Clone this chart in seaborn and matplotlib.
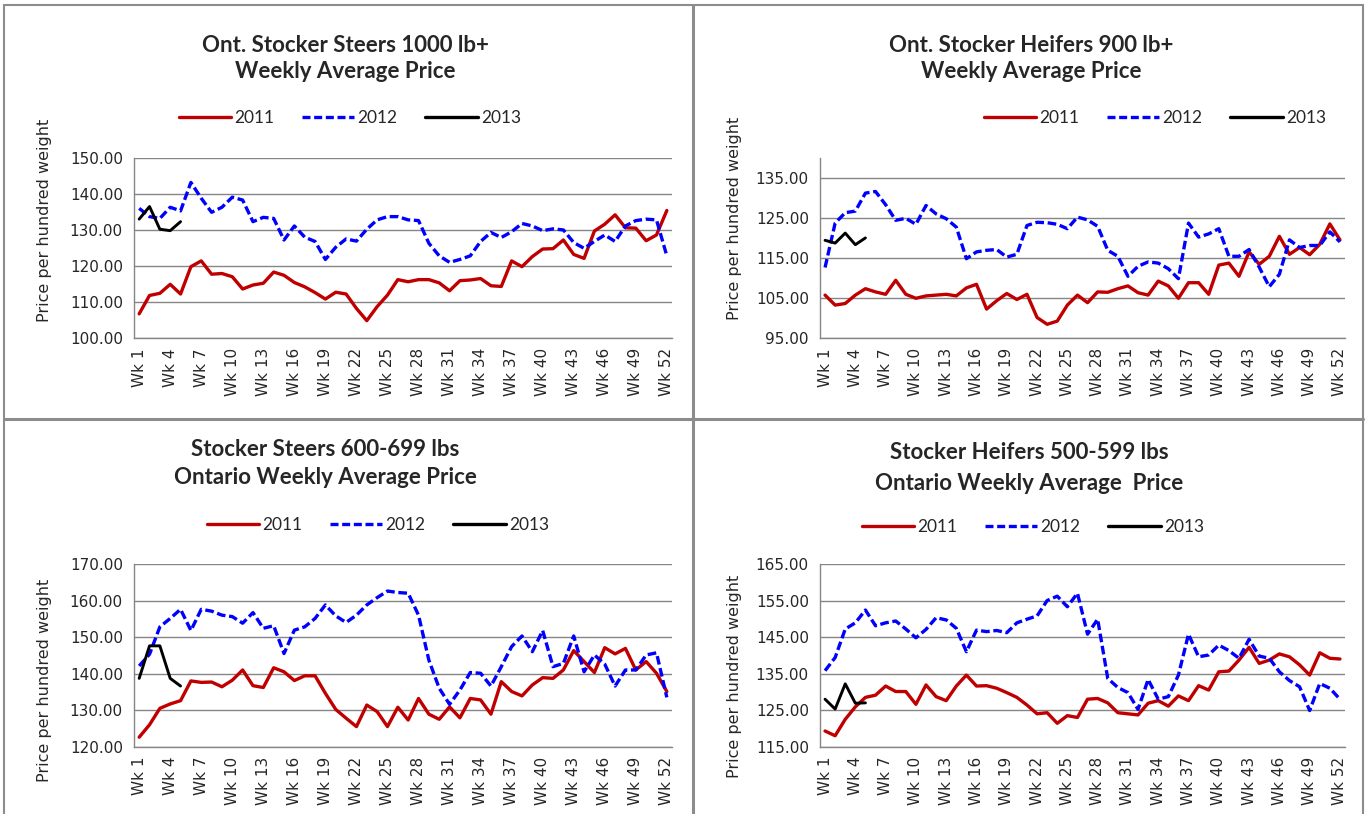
import numpy as np
import pandas as pd
import matplotlib
matplotlib.use('Agg')
import matplotlib.pyplot as plt
from matplotlib.lines import Line2D
import seaborn as sns

sns.set_style('white')
plt.rcParams['font.family'] = ['DejaVu Sans']

# Datos semanales (precio por quintal)
week_labels = [f"Wk {i}" for i in range(1, 53)]
years = ['2011', '2012', '2013']

steers1000_2011 = [106.8, 111.9, 112.5, 115.0, 112.3, 119.9, 121.5, 117.8, 118.0, 117.1,
                   113.7, 114.8, 115.3, 118.4, 117.5, 115.5, 114.3, 112.7, 110.9, 112.8,
                   112.3, 108.3, 104.9, 108.8, 112.0, 116.3, 115.7, 116.3, 116.3, 115.4,
                   113.2, 116.0, 116.2, 116.6, 114.6, 114.4, 121.5, 119.9, 122.7, 124.8,
                   124.9, 127.3, 123.3, 122.2, 129.8, 131.7, 134.3, 130.7, 130.6, 127.1,
                   128.7, 135.5]
steers1000_2012 = [136.1, 133.8, 133.3, 136.4, 135.4, 143.3, 138.9, 135.0, 136.4, 139.2,
                   138.4, 132.4, 133.6, 133.3, 127.3, 131.2, 128.1, 126.9, 121.9, 125.3,
                   127.6, 127.0, 130.3, 132.9, 133.8, 133.8, 132.9, 132.7, 126.4, 122.9,
                   121.1, 121.9, 122.9, 126.9, 129.4, 128.0, 129.6, 131.9, 131.2, 129.9,
                   130.4, 130.1, 126.6, 125.0, 126.9, 128.7, 126.9, 131.2, 132.7, 133.1,
                   132.9, 122.9]
steers1000_2013 = [133.1, 136.6, 130.3, 129.9, 132.4]

heifers900_2011 = [105.8, 103.3, 103.7, 105.8, 107.4, 106.6, 106.0, 109.5, 106.0, 105.0,
                   105.6, 105.8, 106.0, 105.6, 107.6, 108.5, 102.3, 104.4, 106.2, 104.7,
                   106.0, 100.2, 98.5, 99.3, 103.3, 105.8, 103.9, 106.6, 106.5, 107.4,
                   108.1, 106.4, 105.8, 109.3, 108.1, 105.0, 108.9, 108.9, 106.0, 113.3,
                   113.8, 110.5, 116.6, 113.5, 115.5, 120.5, 116.0, 117.7, 115.9, 118.5,
                   123.6, 119.6]
heifers900_2012 = [112.7, 123.8, 126.4, 126.8, 131.3, 131.7, 128.4, 124.5, 125.0, 123.5,
                   128.2, 126.1, 124.9, 122.8, 114.9, 116.6, 117.0, 117.2, 115.3, 116.0,
                   123.2, 124.0, 123.9, 123.5, 122.4, 125.3, 124.6, 123.0, 117.0, 115.5,
                   110.5, 113.0, 114.1, 113.8, 112.4, 109.9, 123.8, 120.3, 121.1, 122.4,
                   115.5, 115.5, 117.2, 112.8, 107.9, 111.0, 119.6, 117.7, 118.2, 118.2,
                   121.6, 119.1]
heifers900_2013 = [119.5, 118.8, 121.3, 118.4, 120.1]

steers600_2011 = [122.6, 126.0, 130.5, 131.7, 132.6, 138.0, 137.6, 137.7, 136.4, 138.2,
                  141.0, 136.7, 136.2, 141.6, 140.5, 138.1, 139.4, 139.4, 134.6, 130.2,
                  127.8, 125.5, 131.4, 129.6, 125.5, 130.8, 127.3, 133.2, 128.9, 127.5,
                  130.9, 127.9, 133.2, 132.8, 128.9, 137.8, 135.1, 133.9, 136.9, 138.9,
                  138.7, 141.0, 146.3, 143.3, 140.3, 147.1, 145.4, 146.9, 141.0, 143.3,
                  140.1, 135.1]
steers600_2012 = [142.1, 145.3, 152.8, 155.1, 157.6, 151.8, 157.6, 157.1, 156.0, 155.6,
                  153.8, 156.7, 152.4, 153.1, 145.5, 151.9, 152.8, 155.1, 158.8, 155.8,
                  154.0, 156.0, 158.8, 160.8, 162.6, 162.2, 162.0, 156.0, 143.7, 136.0,
                  131.6, 135.5, 140.3, 140.1, 136.6, 141.9, 147.4, 150.3, 146.0, 151.8,
                  141.9, 142.8, 150.3, 140.5, 145.1, 142.6, 136.6, 141.0, 141.0, 145.1,
                  145.7, 133.5]
steers600_2013 = [138.7, 147.6, 147.6, 138.7, 136.6]

heifers500_2011 = [119.3, 118.0, 122.5, 125.9, 128.5, 129.1, 131.6, 130.1, 130.1, 126.6,
                   131.9, 128.7, 127.6, 131.6, 134.6, 131.6, 131.7, 131.0, 129.8, 128.5,
                   126.4, 124.0, 124.3, 121.4, 123.5, 123.0, 128.0, 128.2, 127.0, 124.3,
                   124.0, 123.7, 126.9, 127.6, 126.1, 128.9, 127.6, 131.7, 130.5, 135.5,
                   135.7, 138.7, 142.2, 137.8, 138.7, 140.4, 139.6, 137.4, 134.6, 140.7,
                   139.2, 139.0]
heifers500_2012 = [135.8, 139.4, 147.2, 148.9, 152.4, 148.1, 148.9, 149.4, 147.2, 144.8,
                   147.1, 150.3, 149.7, 147.4, 141.0, 146.9, 146.5, 146.8, 146.2, 148.9,
                   149.9, 150.8, 155.0, 156.2, 153.3, 157.0, 145.8, 149.9, 133.7, 131.2,
                   129.8, 125.2, 133.4, 128.0, 128.7, 134.6, 145.8, 139.6, 140.1, 142.8,
                   141.3, 139.2, 144.4, 139.8, 139.2, 135.5, 133.1, 131.4, 124.9, 132.3,
                   131.0, 128.0]
heifers500_2013 = [128.0, 125.3, 132.2, 126.9, 127.0]

RED = '#C00000'
BLUE = '#0000FF'
GRAY = '#868686'
W, H = 1366, 814


def px_rect(left, top, right, bottom):
    """Convierte una caja en pixeles a coordenadas de figura."""
    return [left / W, 1 - bottom / H, (right - left) / W, (bottom - top) / H]


def draw_panel(fig, box, s11, s12, s13, ylim, titles, title_pos, legend_pos, ylabel_pos):
    ax = fig.add_axes(px_rect(*box))
    df = pd.DataFrame({'week': range(52), '2011': s11, '2012': s12})
    df13 = pd.DataFrame({'week': range(len(s13)), '2013': s13})

    sns.lineplot(data=df, x='week', y='2011', ax=ax, color=RED, lw=2.4)
    sns.lineplot(data=df, x='week', y='2012', ax=ax, color=BLUE, lw=2.4)
    ax.lines[-1].set_dashes([2.6, 1.1])
    sns.lineplot(data=df13, x='week', y='2013', ax=ax, color='black', lw=2.1)

    ax.set_xlim(-0.5, 51.5)
    ax.set_ylim(*ylim)
    ax.set_xticks(range(0, 52, 3))
    ax.set_xticklabels(week_labels[::3], rotation=90, fontsize=11)
    ax.set_xticks(np.arange(-0.5, 52, 1), minor=True)
    ax.tick_params(axis='x', which='major', length=0, pad=7)
    ax.tick_params(axis='x', which='minor', length=5, color=GRAY, direction='out')
    yt = np.arange(ylim[0], ylim[1] + 0.01, 10)
    ax.set_yticks(yt)
    ax.set_yticklabels([f"{v:.2f}" for v in yt], fontsize=11)
    ax.tick_params(axis='y', length=5, color=GRAY, direction='out', pad=3)
    ax.set_xlabel('')
    ax.set_ylabel('')
    ax.yaxis.grid(True, color=GRAY, lw=1)
    ax.xaxis.grid(False)
    for side in ['top', 'right']:
        ax.spines[side].set_visible(False)
    for side in ['left', 'bottom']:
        ax.spines[side].set_color(GRAY)
        ax.spines[side].set_linewidth(1)

    # titulo en dos lineas
    (tx, ty1, ty2) = title_pos
    fig.text(tx / W, 1 - ty1 / H, titles[0], ha='center', va='center',
             fontsize=16, fontweight='bold', family=['Lato', 'DejaVu Sans'])
    fig.text(tx / W, 1 - ty2 / H, titles[1], ha='center', va='center',
             fontsize=16, fontweight='bold', family=['Lato', 'DejaVu Sans'])

    fig.text(ylabel_pos[0] / W, 1 - ylabel_pos[1] / H, 'Price per hundred weight',
             rotation=90, ha='center', va='center', fontsize=11.5)

    handles = [Line2D([], [], color=RED, lw=2.4),
               Line2D([], [], color=BLUE, lw=2.4, dashes=[2.4, 1.1]),
               Line2D([], [], color='black', lw=2.4)]
    fig.legend(handles, years, loc='center', ncol=3, frameon=False,
               bbox_to_anchor=(legend_pos[0] / W, 1 - legend_pos[1] / H),
               handlelength=3.0, handletextpad=0.2, columnspacing=1.6,
               prop={'family': ['Lato', 'DejaVu Sans'], 'size': 12.5})
    return ax


fig = plt.figure(figsize=(W / 100, H / 100), dpi=100)

draw_panel(fig, (134, 158.3, 672, 338.3), steers1000_2011, steers1000_2012, steers1000_2013,
           (100, 150), ("Ont. Stocker Steers 1000 lb+", "Weekly Average Price"),
           (345, 45, 72), (350, 118), (45, 220))
draw_panel(fig, (820, 158.3, 1345, 338.3), heifers900_2011, heifers900_2012, heifers900_2013,
           (95, 140), ("Ont. Stocker Heifers 900 lb+", "Weekly Average Price"),
           (1031, 45, 72), (1155, 118), (735, 218))
draw_panel(fig, (134, 564, 672, 746.7), steers600_2011, steers600_2012, steers600_2013,
           (120, 170), ("Stocker Steers 600-699 lbs", "Ontario Weekly Average Price"),
           (325, 450, 478), (378, 525), (45, 680))
draw_panel(fig, (820, 564, 1345, 746.7), heifers500_2011, heifers500_2012, heifers500_2013,
           (115, 165), ("Stocker Heifers 500-599 lbs", "Ontario Weekly Average  Price"),
           (1029, 452, 483), (1033, 527), (735, 676))

# marcos grises entre paneles
frame = dict(transform=fig.transFigure, color='#8c8c8c')
for (x0, y0, x1, y1, lw) in [(3.5, 5, 3.5, 814, 1.5), (3.5, 5, 1362.5, 5, 1.5),
                             (1362.5, 5, 1362.5, 814, 1.5), (693, 5, 693, 814, 2.2),
                             (3.5, 418.5, 1362.5, 418.5, 2.2)]:
    fig.add_artist(Line2D([x0 / W, x1 / W], [1 - y0 / H, 1 - y1 / H], lw=lw, **frame))

fig.savefig('out.png', dpi=100)
